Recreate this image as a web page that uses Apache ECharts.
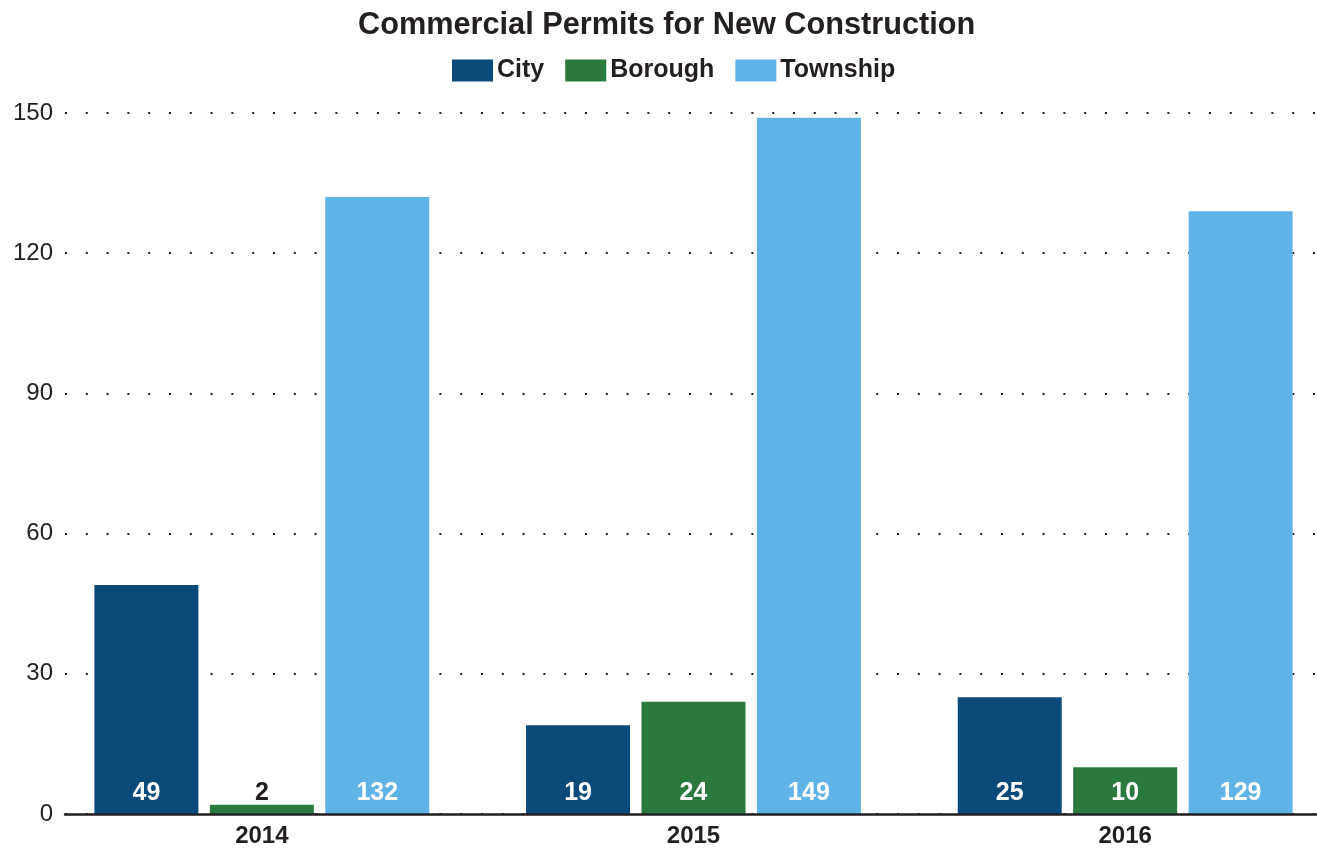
<!DOCTYPE html>
<html>
<head>
<meta charset="utf-8">
<title>Commercial Permits for New Construction</title>
<script src="https://cdn.jsdelivr.net/npm/echarts@6/dist/echarts.min.js"></script>
<style>
  html, body { margin: 0; padding: 0; background: #ffffff; }
  #chart { width: 1317px; height: 851px; }
</style>
</head>
<body>
<div id="chart"></div>
<script>
// Permit counts by year and municipality type
const years = ['2014', '2015', '2016'];
const cityPermits = [49, 19, 25];
const boroughPermits = [2, 24, 10];
const townshipPermits = [132, 149, 129];
const seriesNames = ['City', 'Borough', 'Township'];
const seriesColors = ['#0a4a7a', '#2a7a3d', '#5fb3e6'];
const yTicks = { min: 0, max: 150, interval: 30 };

const FONT = '"Liberation Sans", Arial, Helvetica, sans-serif';
const INK = '#231f20';

// Short bars cannot hold a white label, so those labels switch to dark ink
function toItems(values) {
  return values.map(v => ({
    value: v,
    label: { color: v < 5 ? INK : '#ffffff' }
  }));
}

const seriesData = [cityPermits, boroughPermits, townshipPermits];

const chart = echarts.init(document.getElementById('chart'), null, { renderer: 'canvas' });

chart.setOption({
  animation: false,
  backgroundColor: '#ffffff',
  title: {
    text: 'Commercial Permits for New Construction',
    left: 358,
    top: 10,
    padding: 0,
    textStyle: { fontFamily: FONT, fontSize: 30.7, fontWeight: 'bold', color: INK }
  },
  legend: {
    top: 58,
    left: 452,
    padding: 0,
    icon: 'rect',
    itemWidth: 41,
    itemHeight: 22,
    itemGap: 21,
    textStyle: { fontFamily: FONT, fontSize: 25, fontWeight: 'bold', color: INK, padding: [0, 0, 0, -1] },
    data: seriesNames
  },
  grid: [
    // bars
    { left: 46, top: 113, bottom: 37, width: 1295, outerBoundsMode: 'none' },
    // value axis, dotted gridlines and baseline
    { left: 65, top: 113, bottom: 37, right: 0, outerBoundsMode: 'none' }
  ],
  xAxis: [
    {
      type: 'category',
      gridIndex: 0,
      data: years,
      axisLine: { show: false },
      axisTick: { show: false },
      axisLabel: { fontFamily: FONT, fontSize: 24, fontWeight: 'bold', color: INK, margin: 10 }
    },
    {
      type: 'value',
      gridIndex: 1,
      min: 0,
      max: 1,
      axisLine: { show: true, onZero: false, lineStyle: { color: INK, width: 2.5 } },
      axisTick: { show: false },
      axisLabel: { show: false },
      splitLine: { show: false },
      z: 5
    }
  ],
  yAxis: [
    {
      type: 'value',
      gridIndex: 0,
      min: yTicks.min,
      max: yTicks.max,
      interval: yTicks.interval,
      show: false
    },
    {
      type: 'value',
      gridIndex: 1,
      min: yTicks.min,
      max: yTicks.max,
      interval: yTicks.interval,
      axisLine: { show: false },
      axisTick: { show: false },
      axisLabel: { fontFamily: FONT, fontSize: 24, color: INK, margin: 12 },
      splitLine: {
        show: true,
        lineStyle: { color: INK, width: 2, type: [2, 18.8] }
      }
    }
  ],
  series: seriesNames.map((name, i) => ({
    name: name,
    type: 'bar',
    xAxisIndex: 0,
    yAxisIndex: 0,
    barWidth: 104,
    barGap: '11%',
    itemStyle: { color: seriesColors[i] },
    label: {
      show: true,
      position: 'insideBottom',
      distance: 8,
      fontFamily: FONT,
      fontSize: 25,
      fontWeight: 'bold'
    },
    z: 3,
    data: toItems(seriesData[i])
  }))
});
</script>
</body>
</html>
